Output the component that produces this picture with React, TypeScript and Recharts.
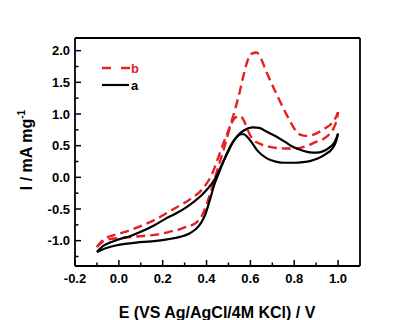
import { LineChart, Line, XAxis, YAxis, ReferenceLine } from "recharts";

// curve a (black), forward and reverse branch, sorted by potential
const aFwdE = [-0.1, -0.06, -0.02, 0.03, 0.08, 0.15, 0.22, 0.28, 0.32, 0.35, 0.375, 0.395, 0.415, 0.435, 0.455, 0.478, 0.5, 0.52, 0.54, 0.557, 0.57, 0.585, 0.6, 0.63, 0.675, 0.72, 0.76, 0.8, 0.84, 0.875, 0.91, 0.945, 0.97, 0.99, 1.0];
const aFwdI = [-1.18, -1.12, -1.08, -1.05, -1.03, -1.01, -0.98, -0.94, -0.89, -0.82, -0.72, -0.58, -0.36, -0.12, 0.06, 0.26, 0.43, 0.56, 0.645, 0.68, 0.68, 0.64, 0.58, 0.43, 0.3, 0.245, 0.23, 0.23, 0.24, 0.26, 0.3, 0.37, 0.44, 0.56, 0.69];
const aRevE = [-0.1, -0.07, -0.04, 0.0, 0.05, 0.1, 0.16, 0.21, 0.26, 0.3, 0.34, 0.375, 0.405, 0.43, 0.45, 0.47, 0.495, 0.52, 0.545, 0.57, 0.59, 0.614, 0.64, 0.675, 0.72, 0.76, 0.8, 0.84, 0.87, 0.9, 0.93, 0.96, 0.985, 1.0];
const aRevI = [-1.18, -1.08, -1.03, -0.98, -0.93, -0.86, -0.76, -0.66, -0.57, -0.49, -0.39, -0.29, -0.18, -0.07, 0.05, 0.2, 0.38, 0.55, 0.67, 0.74, 0.775, 0.79, 0.78, 0.72, 0.64, 0.555, 0.47, 0.42, 0.395, 0.39, 0.41, 0.47, 0.56, 0.69];

// curve b (red dashed)
const bFwdE = [-0.1, -0.07, -0.03, 0.02, 0.08, 0.13, 0.18, 0.23, 0.27, 0.3, 0.33, 0.355, 0.38, 0.405, 0.43, 0.455, 0.485, 0.51, 0.53, 0.552, 0.57, 0.585, 0.6, 0.615, 0.65, 0.69, 0.73, 0.78, 0.82, 0.86, 0.9, 0.935, 0.96, 0.98, 0.993, 1.0];
const bFwdI = [-1.1, -1.01, -0.97, -0.955, -0.935, -0.92, -0.9, -0.86, -0.83, -0.79, -0.76, -0.71, -0.6, -0.38, -0.1, 0.18, 0.52, 0.82, 0.94, 0.97, 0.9, 0.77, 0.66, 0.59, 0.52, 0.48, 0.46, 0.455, 0.46, 0.5, 0.56, 0.61, 0.68, 0.78, 0.9, 1.03];
const bRevE = [-0.1, -0.07, -0.03, 0.02, 0.07, 0.12, 0.17, 0.22, 0.27, 0.31, 0.345, 0.375, 0.4, 0.425, 0.45, 0.475, 0.5, 0.52, 0.537, 0.552, 0.568, 0.585, 0.605, 0.628, 0.65, 0.675, 0.705, 0.735, 0.765, 0.79, 0.81, 0.83, 0.855, 0.88, 0.91, 0.94, 0.97, 0.99, 1.0];
const bRevI = [-1.1, -0.98, -0.92, -0.87, -0.81, -0.74, -0.66, -0.56, -0.46, -0.38, -0.3, -0.21, -0.1, 0.05, 0.28, 0.52, 0.74, 0.95, 1.16, 1.36, 1.6, 1.82, 1.95, 1.97, 1.86, 1.65, 1.42, 1.2, 0.99, 0.83, 0.72, 0.67, 0.655, 0.665, 0.71, 0.77, 0.85, 0.95, 1.03];

const xTicks = [-0.2, -0.1, 0, 0.1, 0.2, 0.3, 0.4, 0.5, 0.6, 0.7, 0.8, 0.9, 1.0];
const yTicks = [-1.25, -1, -0.75, -0.5, -0.25, 0, 0.25, 0.5, 0.75, 1, 1.25, 1.5, 1.75, 2];

const RED = "#e3211f";
const FONT = "'Liberation Sans', Arial, sans-serif";

const pts = (e: number[], i: number[]) => e.map((x, k) => ({ E: x, I: i[k] }));

function XTick({ x, y, payload }: any) {
  const v = payload.value as number;
  const major = Math.round(v * 10) % 2 === 0;
  return (
    <g>
      <line x1={x} x2={x} y1={y} y2={y - (major ? 6 : 3.5)} stroke="#000" strokeWidth={1.5} />
      {major && (
        <text x={x} y={y + 17} textAnchor="middle" fontSize={13} fontWeight="bold" fontFamily={FONT} fill="#000">
          {v.toFixed(1)}
        </text>
      )}
    </g>
  );
}

function YTick({ x, y, payload }: any) {
  const v = payload.value as number;
  const major = Number.isInteger(Math.round(v * 100) / 50);
  return (
    <g>
      <line x1={x} x2={x + (major ? 6 : 3.5)} y1={y} y2={y} stroke="#000" strokeWidth={1.5} />
      {major && (
        <text x={x - 5} y={y + 4.6} textAnchor="end" fontSize={13} fontWeight="bold" fontFamily={FONT} fill="#000">
          {v.toFixed(1)}
        </text>
      )}
    </g>
  );
}

export default function App() {
  const axisLine = { stroke: "#000", strokeWidth: 1.8 };
  return (
    <div style={{ position: "absolute", left: 0, top: 0, width: 418, height: 320, background: "#fff" }}>
      <LineChart width={418} height={320} margin={{ top: 38, right: 58, left: 0, bottom: 0 }}>
        <XAxis dataKey="E" type="number" domain={[-0.2, 1.1]} allowDataOverflow ticks={xTicks} interval={0}
          tick={<XTick />} tickLine={false} tickSize={0} tickMargin={0} height={54} axisLine={axisLine} />
        <YAxis type="number" domain={[-1.4, 2.2]} allowDataOverflow ticks={yTicks} interval={0}
          tick={<YTick />} tickLine={false} tickSize={0} tickMargin={0} width={75} axisLine={axisLine} />
        <ReferenceLine y={2.2} stroke="#000" strokeWidth={1.8} />
        <ReferenceLine x={1.1} stroke="#000" strokeWidth={1.8} />
        <Line data={pts(bFwdE, bFwdI)} dataKey="I" type="monotone" stroke={RED} strokeWidth={2.4} strokeDasharray="9 5" dot={false} activeDot={false} isAnimationActive={false} />
        <Line data={pts(bRevE, bRevI)} dataKey="I" type="monotone" stroke={RED} strokeWidth={2.4} strokeDasharray="9 5" dot={false} activeDot={false} isAnimationActive={false} />
        <Line data={pts(aFwdE, aFwdI)} dataKey="I" type="monotone" stroke="#000" strokeWidth={2.2} dot={false} activeDot={false} isAnimationActive={false} />
        <Line data={pts(aRevE, aRevI)} dataKey="I" type="monotone" stroke="#000" strokeWidth={2.2} dot={false} activeDot={false} isAnimationActive={false} />
        <g fontFamily={FONT} fontWeight="bold">
          <line x1={102} x2={130} y1={68} y2={68} stroke={RED} strokeWidth={2.5} strokeDasharray="9 10" />
          <text x={131} y={72.5} fontSize={13} fill={RED}>b</text>
          <line x1={102} x2={129} y1={85} y2={85} stroke="#000" strokeWidth={2.2} />
          <text x={131} y={89.5} fontSize={13} fill="#000">a</text>
          <text x={217} y={318} textAnchor="middle" fontSize={16} fill="#000">E (VS Ag/AgCl/4M KCl) / V</text>
          <text transform="translate(32,150) rotate(-90)" textAnchor="middle" fontSize={16} fill="#000">
            I / mA mg<tspan dy={-7} fontSize={10}>-1</tspan>
          </text>
        </g>
      </LineChart>
    </div>
  );
}
